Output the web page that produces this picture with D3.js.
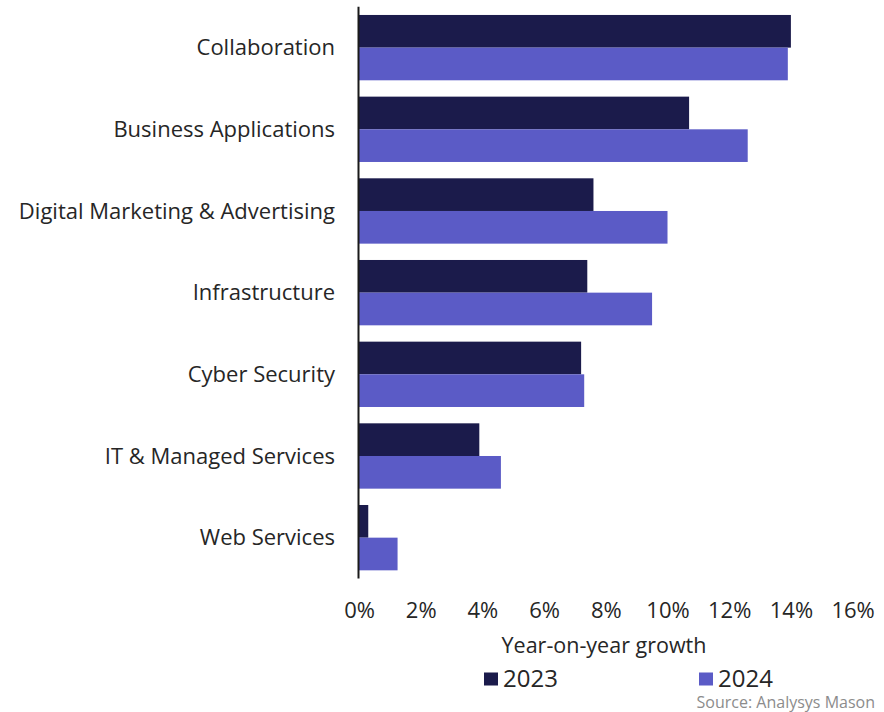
<!DOCTYPE html>
<html><head><meta charset="utf-8">
<script src="https://cdn.jsdelivr.net/npm/d3@7"></script>
<style>
html,body{margin:0;padding:0;background:#fff;}
text{font-family:"Open Sans",sans-serif;}
</style></head>
<body>
<svg id="chart" width="884" height="712"></svg>
<script>
const categories = ["Collaboration","Business Applications","Digital Marketing & Advertising","Infrastructure","Cyber Security","IT & Managed Services","Web Services"];
const series = ["2023","2024"];
const values2023 = [14.0, 10.7, 7.6, 7.4, 7.2, 3.9, 0.3];
const values2024 = [13.9, 12.6, 10.0, 9.5, 7.3, 4.6, 1.25];
const tickValues = [0,2,4,6,8,10,12,14,16];
const axisTitle = "Year-on-year growth";
const sourceText = "Source: Analysys Mason";
const colors = ["#1b1b4b","#5b5bc6"];

const svg = d3.select("#chart");
const x = d3.scaleLinear().domain([0,16]).range([359, 852.6]);
const y = d3.scaleBand().domain(categories).range([6.8, 578.5]).paddingInner(0.2).paddingOuter(0.1);
const ySub = d3.scaleBand().domain(series).range([0, y.bandwidth()]);
const color = d3.scaleOrdinal().domain(series).range(colors);

const rows = categories.map((c,i)=>({cat:c, vals:[{s:"2023",v:values2023[i]},{s:"2024",v:values2024[i]}]}));

const g = svg.append("g");
const grp = g.selectAll("g.row").data(rows).join("g").attr("transform", d=>`translate(0,${y(d.cat)})`);
grp.selectAll("rect").data(d=>d.vals).join("rect")
  .attr("x", x(0))
  .attr("y", d=>ySub(d.s))
  .attr("width", d=>x(d.v)-x(0))
  .attr("height", ySub.bandwidth())
  .attr("fill", d=>color(d.s));

// category labels
g.selectAll("text.cat").data(categories).join("text")
  .attr("class","cat")
  .attr("x", 335)
  .attr("y", d=>y(d)+y.bandwidth()/2)
  .attr("dy","0.35em")
  .attr("text-anchor","end")
  .attr("font-size",22)
  .attr("fill","#262626")
  .text(d=>d);

// y axis line
svg.append("line").attr("x1",358.5).attr("x2",358.5).attr("y1",y.range()[0]).attr("y2",y.range()[1])
  .attr("stroke","#1a1a1a").attr("stroke-width",2);

// x axis tick labels
const xAxis = d3.axisBottom(x).tickValues(tickValues).tickSize(0).tickPadding(0).tickFormat(d=>d+"%");
const xa = svg.append("g").attr("transform","translate(0,618)").call(xAxis);
xa.select(".domain").remove();
xa.selectAll("text").attr("font-size",22).attr("fill","#262626").attr("font-family","Open Sans").attr("dy","0");

// axis title
svg.append("text").attr("x",604).attr("y",653).attr("text-anchor","middle").attr("font-size",21.5).attr("fill","#262626").text(axisTitle);

// legend
const legX = [484, 699];
series.forEach((s,i)=>{
  svg.append("rect").attr("x",legX[i]).attr("y",672.5).attr("width",14).attr("height",13).attr("fill",color(s));
  svg.append("text").attr("x",legX[i]+19).attr("y",687).attr("font-size",24).attr("fill","#262626").text(s);
});

// source
svg.append("text").attr("x",875).attr("y",708).attr("text-anchor","end").attr("font-size",16).attr("fill","#8c8c8c").text(sourceText);
</script>
</body></html>
